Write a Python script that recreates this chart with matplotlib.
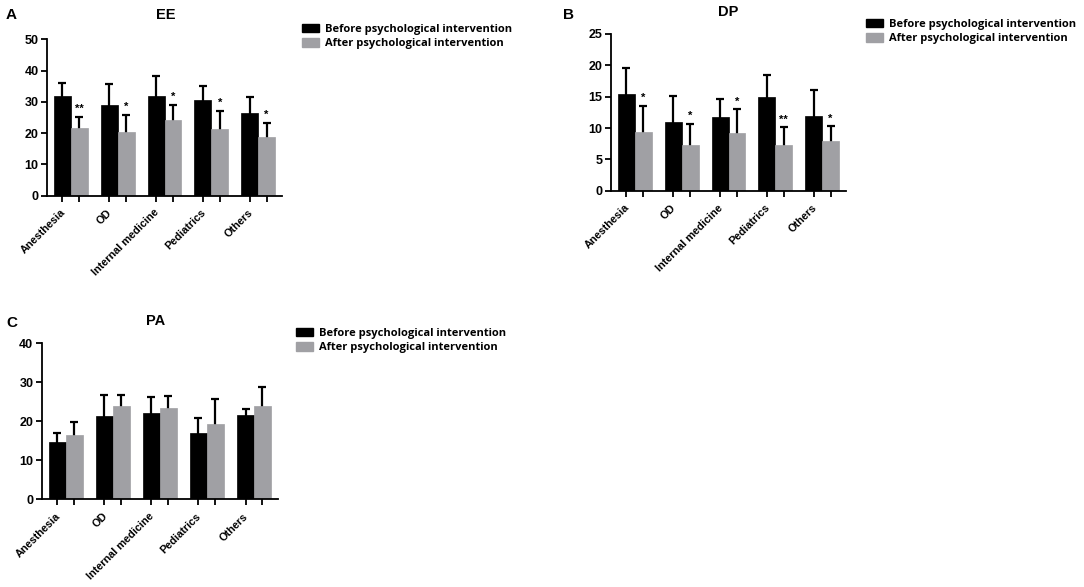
import matplotlib
matplotlib.use("Agg")
import matplotlib.pyplot as plt
from matplotlib.patches import Patch
import numpy as np

plt.rcParams['font.family'] = ['Liberation Sans', 'DejaVu Sans']

categories = ["Anesthesia", "OD", "Internal medicine", "Pediatrics", "Others"]
series_names = ["Before psychological intervention", "After psychological intervention"]

ee_before = [31.9, 29.0, 31.7, 30.5, 26.3]
ee_before_sd = [4.2, 6.8, 6.5, 4.7, 5.1]
ee_after = [21.7, 20.3, 24.1, 21.2, 18.7]
ee_after_sd = [3.4, 5.6, 5.0, 5.9, 4.5]
ee_stars = ["**", "*", "*", "*", "*"]

dp_before = [15.4, 10.9, 11.8, 15.0, 11.9]
dp_before_sd = [4.2, 4.2, 2.9, 3.5, 4.2]
dp_after = [9.3, 7.3, 9.25, 7.3, 7.9]
dp_after_sd = [4.2, 3.4, 3.75, 2.8, 2.4]
dp_stars = ["*", "*", "*", "**", "*"]

pa_before = [14.8, 21.4, 22.1, 16.9, 21.7]
pa_before_sd = [2.1, 5.4, 4.2, 3.9, 1.5]
pa_after = [16.5, 23.8, 23.3, 19.2, 24.0]
pa_after_sd = [3.3, 3.0, 3.3, 6.4, 4.9]
pa_stars = ["", "", "", "", ""]

BLACK = "#000000"
GRAY = "#A0A0A4"

W, H = 1084, 587
fig = plt.figure(figsize=(W / 100, H / 100), dpi=100)


def px_axes(l, t, r, b):
    return fig.add_axes([l / W, 1 - b / H, (r - l) / W, (b - t) / H])


def panel(ax, before, bsd, after, asd, stars, ymax, ystep, title, letter, letter_xy, title_xy, leg_xy):
    x = np.arange(len(categories))
    w = 0.36
    ek = dict(fmt="none", ecolor="black", elinewidth=1.6, capsize=3, capthick=1.6, zorder=1)
    ax.errorbar(x - w / 2, before, yerr=bsd, **ek)
    ax.errorbar(x + w / 2, after, yerr=asd, **ek)
    ax.bar(x - w / 2, before, w, color=BLACK, edgecolor=BLACK, linewidth=0.5, zorder=2)
    ax.bar(x + w / 2, after, w, color=GRAY, edgecolor=GRAY, linewidth=0.5, zorder=2)
    for xi, v, e, s in zip(x, after, asd, stars):
        if s:
            ax.annotate(s, xy=(xi + w / 2, v + e), xytext=(0, 2), textcoords="offset points",
                        ha="center", va="bottom", fontsize=8, fontweight="bold")
    ax.set_xlim(-0.51, 4.51)
    ax.set_ylim(0, ymax)
    ax.set_yticks(np.arange(0, ymax + 0.01, ystep))
    ticks = np.sort(np.concatenate([x - w / 2, x + w / 2]))
    ax.set_xticks(ticks)
    ax.set_xticklabels([])
    ax.set_xticks(x - w / 2 + 0.1, minor=True)
    ax.set_xticklabels(categories, minor=True, rotation=45, ha="right", va="top",
                       fontsize=7.8, fontweight="bold")
    ax.tick_params(axis="x", which="minor", length=0, pad=8.5)
    ax.tick_params(axis="x", which="major", length=4.5, width=1.3, direction="out")
    ax.tick_params(axis="y", length=4, width=1.3, direction="out", pad=2, labelsize=9)
    for lab in ax.get_yticklabels():
        lab.set_fontweight("bold")
    for s in ["top", "right"]:
        ax.spines[s].set_visible(False)
    for s in ["left", "bottom"]:
        ax.spines[s].set_linewidth(1.3)
    fig.text(title_xy[0] / W, 1 - title_xy[1] / H, title, ha="center", va="center",
             fontsize=10.5, fontweight="bold")
    fig.text(letter_xy[0] / W, 1 - letter_xy[1] / H, letter, ha="center", va="center",
             fontsize=11, fontweight="bold")
    handles = [Patch(facecolor=BLACK, edgecolor=BLACK), Patch(facecolor=GRAY, edgecolor=GRAY)]
    fig.legend(handles, series_names, loc="upper left",
               bbox_to_anchor=(leg_xy[0] / W, 1 - leg_xy[1] / H), bbox_transform=fig.transFigure,
               frameon=False, borderpad=0, borderaxespad=0, handlelength=1.5, handleheight=0.75,
               handletextpad=0.6, labelspacing=0.3,
               prop=dict(family="Open Sans", weight="bold", size=8))


axA = px_axes(47, 39.3, 282, 195.5)
panel(axA, ee_before, ee_before_sd, ee_after, ee_after_sd, ee_stars, 50, 10,
      "EE", "A", (11, 15), (166, 15), (302, 24))

axB = px_axes(611, 34, 846, 190.7)
panel(axB, dp_before, dp_before_sd, dp_after, dp_after_sd, dp_stars, 25, 5,
      "DP", "B", (569, 15), (728, 12), (866, 19))

axC = px_axes(41.7, 343.3, 278, 499.3)
panel(axC, pa_before, pa_before_sd, pa_after, pa_after_sd, pa_stars, 40, 10,
      "PA", "C", (12, 323), (156, 321), (296, 328))

fig.savefig("out.png", dpi=100)
